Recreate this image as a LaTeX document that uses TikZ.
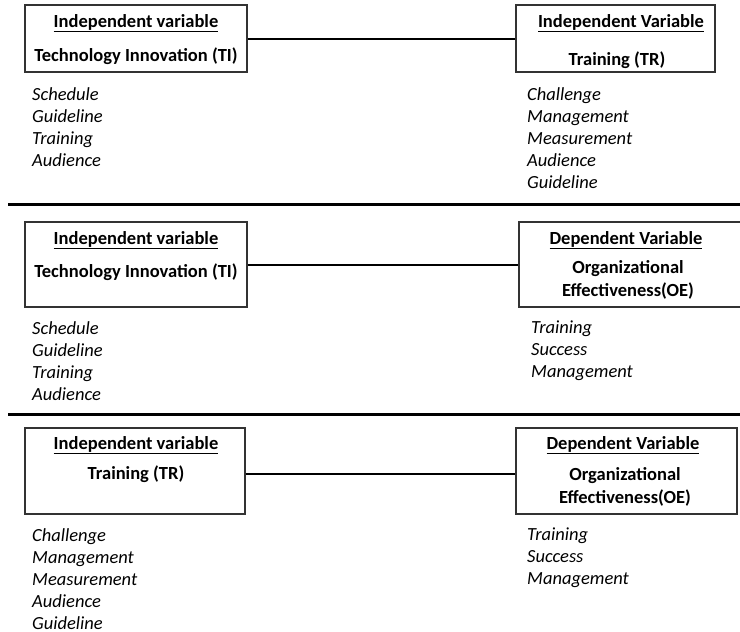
\documentclass[tikz,border=0pt]{standalone}
\usepackage{fontspec}
\setmainfont{Carlito}
\begin{document}
\begin{tikzpicture}[x=1pt,y=-1pt,
  box/.style={draw=black!80,line width=1.2pt,inner sep=0pt,minimum width=#1},
  head/.style={anchor=base,inner sep=0pt,font=\fontsize{18.5}{22}\selectfont\bfseries},
  varname/.style={anchor=base,inner sep=0pt,align=center,font=\fontsize{18.5}{23}\selectfont\bfseries},
  items/.style={anchor=north west,inner sep=0pt,align=left,font=\fontsize{18.5}{22}\selectfont\itshape},
  link/.style={line width=2pt},
  divider/.style={line width=3pt}]
\useasboundingbox (0,0) rectangle (740,632);

% ---------- Technology Innovation  --  Training ----------
\node[box=222,minimum height=67] (ti1) at (136,38.5) {};
\node[head] (ti1h) at (136,27) {\underline{Independent variable}};
\node[varname] (ti1n) at (136,61) {Technology Innovation (TI)};
\node[items] (ti1l) at (32,87) {Schedule\\Guideline\\Training\\Audience};

\node[box=199,minimum height=67] (tr1) at (615.5,38.5) {};
\node[head] (tr1h) at (621,27) {\underline{Independent Variable}};
\node[varname] (tr1n) at (617,65) {Training (TR)};
\node[items] (tr1l) at (527,87) {Challenge\\Management\\Measurement\\Audience\\Guideline};

\draw[link] (ti1.east) -- (tr1.west);

\coordinate (d1a) at (8,204);
\coordinate (d1b) at (740,204);
\draw[divider] (d1a) -- (d1b);

% ---------- Technology Innovation  --  Organizational Effectiveness ----------
\node[box=222,minimum height=85] (ti2) at (136,264.5) {};
\node[head] (ti2h) at (136,244) {\underline{Independent variable}};
\node[varname] (ti2n) at (136,277) {Technology Innovation (TI)};
\node[items] (ti2l) at (32,321) {Schedule\\Guideline\\Training\\Audience};

\node[box=224,minimum height=85] (oe2) at (631,264.5) {};
\node[head] (oe2h) at (626,244) {\underline{Dependent Variable}};
\node[varname] (oe2n) at (628,296) {Organizational\\Effectiveness(OE)};
\node[items] (oe2l) at (531,321) {Training\\Success\\Management};

\draw[link] (ti2.east) -- (oe2.west);

\coordinate (d2a) at (8,414);
\coordinate (d2b) at (740,414);
\draw[divider] (d2a) -- (d2b);

% ---------- Training  --  Organizational Effectiveness ----------
\node[box=220,minimum height=86] (tr3) at (135,471) {};
\node[head] (tr3h) at (136,449) {\underline{Independent variable}};
\node[varname] (tr3n) at (136,479) {Training (TR)};
\node[items] (tr3l) at (32,528) {Challenge\\Management\\Measurement\\Audience\\Guideline};

\node[box=221,minimum height=86] (oe3) at (626.5,471) {};
\node[head] (oe3h) at (623,449) {\underline{Dependent Variable}};
\node[varname] (oe3n) at (625,503) {Organizational\\Effectiveness(OE)};
\node[items] (oe3l) at (527,528) {Training\\Success\\Management};

\draw[link] ([yshift=-3pt]tr3.east) -- ([yshift=-3pt]oe3.west);
\end{tikzpicture}
\end{document}
